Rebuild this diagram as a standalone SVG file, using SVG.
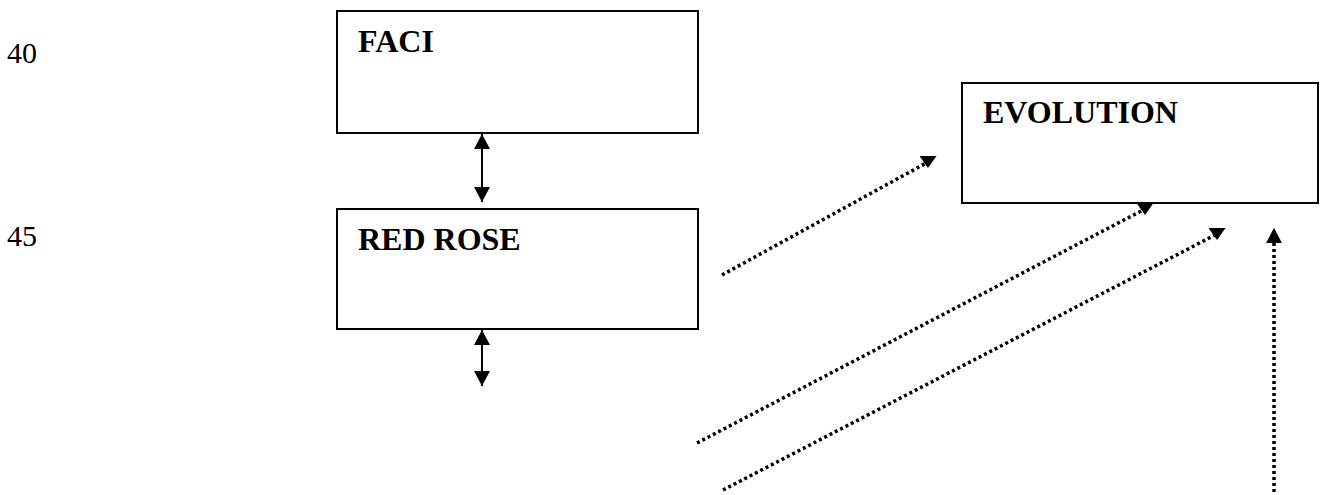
<svg xmlns="http://www.w3.org/2000/svg" width="1328" height="495" viewBox="0 0 1328 495">
<style>
.box{fill:#fff;stroke:#000;stroke-width:2}
.lbl{font-family:"Liberation Serif","Times New Roman",serif;font-weight:bold;font-size:32px;fill:#000}
.num{font-family:"Liberation Serif","Times New Roman",serif;font-size:30px;fill:#000}
.solid{stroke:#000;stroke-width:2;fill:none}
.dot{stroke:#000;stroke-width:3.5;stroke-dasharray:3 3;fill:none}
</style>
<defs>
<marker id="arr" viewBox="0 0 15 16" refX="15" refY="8" markerWidth="15" markerHeight="16" markerUnits="userSpaceOnUse" orient="auto-start-reverse">
<path d="M0,0 L15,8 L0,16 z" fill="#000"/>
</marker>
<marker id="down" viewBox="0 0 17 12" refX="8.5" refY="6" markerWidth="17" markerHeight="12" markerUnits="userSpaceOnUse" orient="0">
<path d="M0,0 L17,0 L8.5,12 z" fill="#000"/>
</marker>
</defs>
<text class="num" x="7" y="63">40</text>
<text class="num" x="7" y="246">45</text>
<g id="faci">
<rect class="box" x="337" y="11" width="361" height="122"/>
<text class="lbl" x="358" y="52">FACI</text>
</g>
<g id="redrose">
<rect class="box" x="337" y="209" width="361" height="120"/>
<text class="lbl" x="358" y="250">RED ROSE</text>
</g>
<g id="evolution">
<rect class="box" x="962" y="83" width="356" height="120"/>
<text class="lbl" x="983" y="123">EVOLUTION</text>
</g>
<g id="connectors">
<line class="solid" x1="482" y1="134" x2="482" y2="202" marker-start="url(#arr)" marker-end="url(#arr)"/>
<line class="solid" x1="482" y1="330" x2="482" y2="386" marker-start="url(#arr)" marker-end="url(#arr)"/>
<line class="dot" x1="722" y1="275" x2="928" y2="162" marker-end="url(#down)"/>
<line class="dot" x1="697" y1="443" x2="1145" y2="209" marker-end="url(#down)"/>
<line class="dot" x1="723" y1="490" x2="1217" y2="234" marker-end="url(#down)"/>
<line class="dot" x1="1274" y1="492" x2="1274" y2="228" marker-end="url(#arr)"/>
</g>
</svg>
